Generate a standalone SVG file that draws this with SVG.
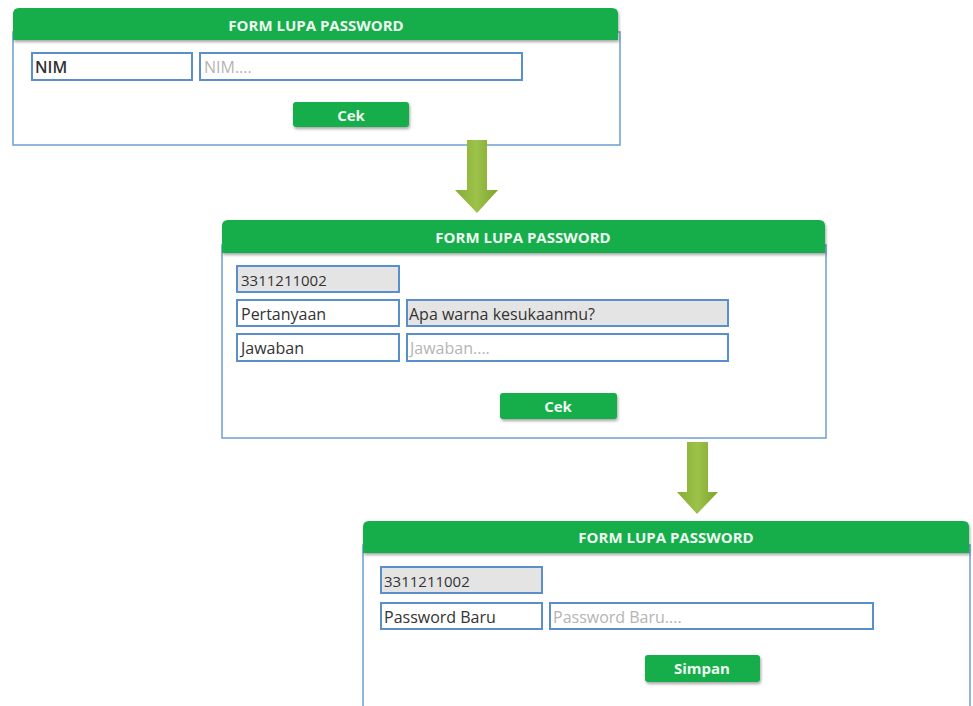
<svg xmlns="http://www.w3.org/2000/svg" width="973" height="706" viewBox="0 0 973 706">
  <defs>
    <filter id="shadow" x="-10%" y="-30%" width="120%" height="170%">
      <feDropShadow dx="1" dy="2" stdDeviation="1.5" flood-color="#000" flood-opacity="0.35"/>
    </filter>
    <linearGradient id="arrowFill" x1="0" y1="0" x2="1" y2="0">
      <stop offset="0" stop-color="#86ad35"/>
      <stop offset="0.5" stop-color="#9cc24a"/>
      <stop offset="1" stop-color="#7fa42e"/>
    </linearGradient>
    <style>
      .body { fill: #ffffff; stroke: #6d9fd2; stroke-width: 1.5; }
      .header { fill: #12ad4b; }
      .title { font-family: "Open Sans", "Liberation Sans", sans-serif; font-weight: 700; font-size: 15px; fill: #eef9f1; text-anchor: middle; }
      .field { fill: #ffffff; stroke: #5b8fc9; stroke-width: 2; }
      .field.ro { fill: #e4e4e4; }
      .lbl { font-family: "Open Sans", "Liberation Sans", sans-serif; font-size: 16px; fill: #333333; }
      .num { font-size: 15px; }
      .ph { font-family: "Open Sans", "Liberation Sans", sans-serif; font-size: 16px; fill: #b4b4b4; }
      .btn { fill: #12ad4b; }
      .btntxt { font-family: "Open Sans", "Liberation Sans", sans-serif; font-weight: 700; font-size: 15px; fill: #eef9f1; text-anchor: middle; }
    </style>
  </defs>

  <!-- Step 1: enter NIM -->
  <g id="form-nim">
    <rect class="body" x="13" y="32" width="607" height="113"/>
    <path class="header" filter="url(#shadow)" d="M13 40 V14 Q13 8 19 8 H612 Q618 8 618 14 V40 Z"/>
    <text class="title" x="316" y="31">FORM LUPA PASSWORD</text>
    <rect class="field" x="32" y="53" width="160" height="27"/>
    <text class="lbl" x="35" y="73" font-weight="600" font-size="14">NIM</text>
    <rect class="field" x="200" y="53" width="322" height="27"/>
    <text class="ph" x="204" y="73" font-size="14">NIM....</text>
    <rect class="btn" filter="url(#shadow)" x="293" y="102" width="116" height="25" rx="3"/>
    <text class="btntxt" x="351" y="121">Cek</text>
  </g>

  <!-- Step 2: security question -->
  <g id="form-question">
    <rect class="body" x="222" y="245" width="604" height="193"/>
    <path class="header" filter="url(#shadow)" d="M222 253 V226 Q222 220 228 220 H819 Q825 220 825 226 V253 Z"/>
    <text class="title" x="523" y="243">FORM LUPA PASSWORD</text>
    <rect class="field ro" x="237" y="266" width="162" height="26"/>
    <text class="lbl num" x="241" y="286">3311211002</text>
    <rect class="field" x="237" y="300" width="162" height="26"/>
    <text class="lbl" x="241" y="320">Pertanyaan</text>
    <rect class="field ro" x="407" y="300" width="321" height="26"/>
    <text class="lbl" x="409" y="320">Apa warna kesukaanmu?</text>
    <rect class="field" x="237" y="334" width="162" height="27"/>
    <text class="lbl" x="241" y="354">Jawaban</text>
    <rect class="field" x="407" y="334" width="321" height="27"/>
    <text class="ph" x="410" y="354">Jawaban....</text>
    <rect class="btn" filter="url(#shadow)" x="500" y="393" width="117" height="26" rx="3"/>
    <text class="btntxt" x="558" y="412">Cek</text>
  </g>

  <!-- Step 3: new password -->
  <g id="form-new-password">
    <rect class="body" x="363" y="545" width="607" height="180"/>
    <path class="header" filter="url(#shadow)" d="M363 553 V527 Q363 521 369 521 H963 Q969 521 969 527 V553 Z"/>
    <text class="title" x="666" y="543">FORM LUPA PASSWORD</text>
    <rect class="field ro" x="381" y="567" width="161" height="26"/>
    <text class="lbl num" x="384" y="587">3311211002</text>
    <rect class="field" x="381" y="603" width="161" height="26"/>
    <text class="lbl" x="384" y="623">Password Baru</text>
    <rect class="field" x="550" y="603" width="323" height="26"/>
    <text class="ph" x="553" y="623">Password Baru....</text>
    <rect class="btn" filter="url(#shadow)" x="645" y="655" width="115" height="27" rx="3"/>
    <text class="btntxt" x="702" y="674">Simpan</text>
  </g>

  <!-- Flow arrows between steps -->
  <g id="connectors">
    <path fill="url(#arrowFill)" d="M467 140 H487 V190 H498 L477 213 L455 190 H467 Z"/>
    <path fill="url(#arrowFill)" d="M687 442 H708 V492 H718 L697 514 L677 492 H687 Z"/>
  </g>
</svg>
